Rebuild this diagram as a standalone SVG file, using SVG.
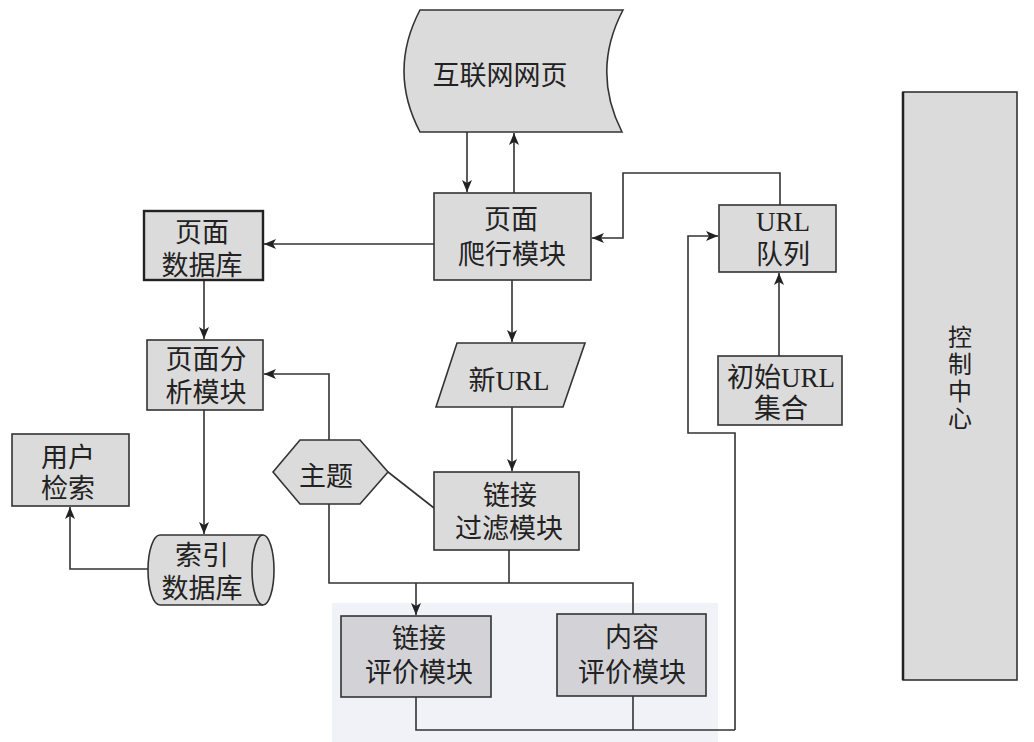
<svg xmlns="http://www.w3.org/2000/svg" width="1034" height="742" viewBox="0 0 1034 742">
<defs>
<style>
.box{fill:#dcdbdb;stroke:#333;stroke-width:1.6}
.eval{fill:#d3d3d7;stroke:#333;stroke-width:1.6}
.t{font-family:"Liberation Serif","Noto Sans CJK SC",serif;font-size:27px;fill:#222;text-anchor:middle}
.v{font-size:24px}
.c{fill:none;stroke:#333;stroke-width:1.6}
</style>
<marker id="ah" viewBox="0 0 12 10" refX="12" refY="5" markerWidth="12" markerHeight="10" markerUnits="userSpaceOnUse" orient="auto">
<path d="M0,0 L12,5 L0,10 L3,5 Z" fill="#222"/>
</marker>
</defs>
<rect width="1034" height="742" fill="#fff"/>
<rect x="332" y="603" width="386" height="139" fill="#f1f2f7"/>

<g id="connectors">
<line class="c" x1="467" y1="132" x2="467" y2="192" marker-end="url(#ah)"/>
<line class="c" x1="514" y1="193" x2="514" y2="133" marker-end="url(#ah)"/>
<line class="c" x1="434" y1="244" x2="264" y2="244" marker-end="url(#ah)"/>
<polyline class="c" points="780,205 780,173 623,173 623,238 592,238" marker-end="url(#ah)"/>
<polyline class="c" points="735,730 735,433 688,433 688,236 718,236" marker-end="url(#ah)"/>
<polyline class="c" points="416,697 416,730 735,730"/>
<line class="c" x1="633" y1="696" x2="633" y2="730"/>
<line class="c" x1="779" y1="356" x2="779" y2="273" marker-end="url(#ah)"/>
<line class="c" x1="204" y1="280" x2="204" y2="339" marker-end="url(#ah)"/>
<polyline class="c" points="329,440 329,374 264,374" marker-end="url(#ah)"/>
<line class="c" x1="204" y1="410" x2="204" y2="534" marker-end="url(#ah)"/>
<polyline class="c" points="148,569 70,569 70,507" marker-end="url(#ah)"/>
<line class="c" x1="388" y1="472" x2="434" y2="508"/>
<line class="c" x1="512" y1="280" x2="512" y2="342" marker-end="url(#ah)"/>
<line class="c" x1="512" y1="407" x2="512" y2="471" marker-end="url(#ah)"/>
<polyline class="c" points="329,504 329,583 633,583 633,614"/>
<line class="c" x1="509" y1="550" x2="509" y2="583"/>
<line class="c" x1="416" y1="583" x2="416" y2="615" marker-end="url(#ah)"/>
</g>

<g id="internet">
<path class="box" d="M420,10 L623,10 Q591,71 622,132 L420,132 Q388,71 420,10 Z"/>
<text class="t" x="500" y="85">互联网网页</text>
</g>
<g id="crawler">
<rect class="box" x="434" y="193" width="157" height="87"/>
<text class="t" x="511" y="229">页面</text>
<text class="t" x="512" y="264">爬行模块</text>
</g>
<g id="urlqueue">
<rect class="box" x="719" y="205" width="117" height="67"/>
<text class="t" x="783" y="231">URL</text>
<text class="t" x="783" y="264">队列</text>
</g>
<g id="initurl">
<rect class="box" x="718" y="356" width="124" height="69"/>
<text class="t" x="781" y="387">初始URL</text>
<text class="t" x="781" y="418">集合</text>
</g>
<g id="control">
<rect class="box" x="903" y="92" width="114" height="588"/>
<line x1="903" y1="92" x2="903" y2="680" stroke="#222" stroke-width="2.5"/>
<text class="t v" x="960" y="346">控</text>
<text class="t v" x="960" y="373">制</text>
<text class="t v" x="960" y="400">中</text>
<text class="t v" x="960" y="427">心</text>
</g>
<g id="pagedb">
<rect class="box" x="144" y="211" width="119" height="69" style="stroke-width:2.4;stroke:#222"/>
<text class="t" x="202" y="242">页面</text>
<text class="t" x="202" y="275">数据库</text>
</g>
<g id="analysis">
<rect class="box" x="147" y="340" width="116" height="70"/>
<text class="t" x="206" y="369">页面分</text>
<text class="t" x="206" y="402">析模块</text>
</g>
<g id="usersearch">
<rect class="box" x="12" y="434" width="117" height="72"/>
<text class="t" x="68" y="467">用户</text>
<text class="t" x="68" y="498">检索</text>
</g>
<g id="indexdb">
<path class="box" d="M160,535 L263,535 A11,35 0 0 1 263,605 L160,605 A12,35 0 0 1 160,535 Z"/>
<path class="c" d="M263,535 A11,35 0 0 0 263,605"/>
<text class="t" x="202" y="565">索引</text>
<text class="t" x="202" y="598">数据库</text>
</g>
<g id="topic">
<polygon class="box" points="273,472 300,440 360,440 388,472 360,504 300,504"/>
<text class="t" x="326" y="486">主题</text>
</g>
<g id="newurl">
<polygon class="box" points="457,343 585,343 563,407 436,407"/>
<text class="t" x="509" y="390">新URL</text>
</g>
<g id="filter">
<rect class="box" x="434" y="472" width="145" height="78"/>
<text class="t" x="510" y="505">链接</text>
<text class="t" x="509" y="538">过滤模块</text>
</g>
<g id="linkeval">
<rect class="eval" x="341" y="616" width="150" height="81"/>
<text class="t" x="419" y="648">链接</text>
<text class="t" x="419" y="682">评价模块</text>
</g>
<g id="contenteval">
<rect class="eval" x="557" y="614" width="149" height="82"/>
<text class="t" x="632" y="647">内容</text>
<text class="t" x="632" y="682">评价模块</text>
</g>
</svg>
